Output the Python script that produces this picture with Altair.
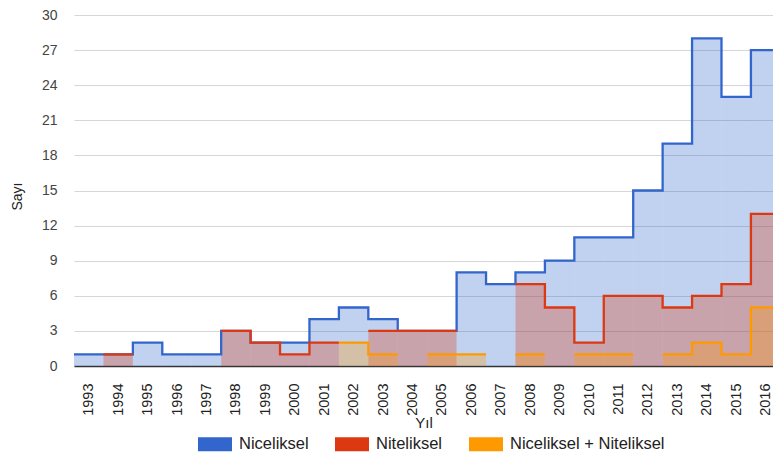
import altair as alt
import pandas as pd

years = list(range(1993, 2017))
series_names = ["Niceliksel", "Niteliksel", "Niceliksel + Niteliksel"]
series_colors = ["#3366cc", "#dc3912", "#ff9900"]

niceliksel = [1, 1, 2, 1, 1, 3, 2, 2, 4, 5, 4, 3, 3, 8, 7, 8, 9, 11, 11, 15, 19, 28, 23, 27]
niteliksel = [None, 1, None, None, None, 3, 2, 1, 2, None, 3, 3, 3, None, None, 7, 5, 2, 6, 6, 5, 6, 7, 13]
karma = [None, None, None, None, None, None, None, None, None, 2, 1, None, 1, 1, None, 1, None, 1, 1, None, 1, 2, 1, 5]

y_ticks = list(range(0, 31, 3))

# step outline: each year becomes a flat segment over its band
line_rows = []
band_rows = []
for name, vals in zip(series_names, [niceliksel, niteliksel, karma]):
    for i, (yr, v) in enumerate(zip(years, vals)):
        line_rows.append({"s": name, "x": yr - 0.5, "v": v, "ord": 2 * i})
        line_rows.append({"s": name, "x": yr + 0.5, "v": v, "ord": 2 * i + 1})
        if v is not None:
            band_rows.append({"s": name, "x0": yr - 0.5, "x1": yr + 0.5, "v": v})
line_df = pd.DataFrame(line_rows)
band_df = pd.DataFrame(band_rows)

FONT = "Liberation Sans"

legend = alt.Legend(
    orient="none", legendX=124, legendY=412, direction="horizontal", title=None,
    symbolType="M-1,-0.41H1V0.41H-1Z", symbolSize=1156, symbolStrokeWidth=0,
    symbolOpacity=1, labelFontSize=16.5, labelFont=FONT, labelColor="#222222",
    labelOffset=7, columnPadding=26,
)

x_scale = alt.Scale(domain=[1992.5, 2016.25], nice=False, zero=False)
y_scale = alt.Scale(domain=[0, 30], nice=False)
color = alt.Color("s:N", scale=alt.Scale(domain=series_names, range=series_colors),
                  sort=series_names, legend=legend)

x_axis = alt.Axis(values=years, format="d", labelAngle=-90, title="Yıl", grid=False,
                  ticks=False, tickSize=0, domainColor="#333333", domainWidth=1.5,
                  labelFontSize=14.5, labelFont=FONT, labelColor="#222222", labelPadding=17,
                  titleFont=FONT, titleFontSize=15, titleFontWeight="normal",
                  titleColor="#222222", titleY=61, titleBaseline="alphabetic")
y_axis = alt.Axis(values=y_ticks, title="Sayı", domain=False, ticks=False, tickSize=0,
                  gridColor="#d6d6d6", gridWidth=1.2, labelFontSize=14, labelFont=FONT,
                  labelColor="#444444", labelPadding=17, titleFont=FONT, titleFontSize=14,
                  titleFontWeight="normal", titleColor="#222222", titleX=-50, titleY=181)

bands = alt.Chart(band_df).mark_rect(opacity=0.3, clip=True).encode(
    x=alt.X("x0:Q", scale=x_scale, axis=x_axis),
    x2="x1:Q",
    y=alt.Y("v:Q", scale=y_scale, axis=y_axis),
    y2=alt.datum(0),
    color=color,
)

lines = alt.Chart(line_df).mark_line(strokeWidth=2.3, clip=True).encode(
    x=alt.X("x:Q", scale=x_scale, axis=x_axis),
    y=alt.Y("v:Q", stack=None, scale=y_scale, axis=y_axis),
    color=color,
    order=alt.Order("ord:Q"),
)

chart = alt.layer(bands, lines).properties(
    width=699, height=351,
    autosize=alt.AutoSizeParams(type="none"),
    padding={"left": 66, "top": 7, "right": 0, "bottom": 92},
).configure_view(stroke=None)

chart.save("out.html", embed_options={"renderer": "svg", "actions": False})
